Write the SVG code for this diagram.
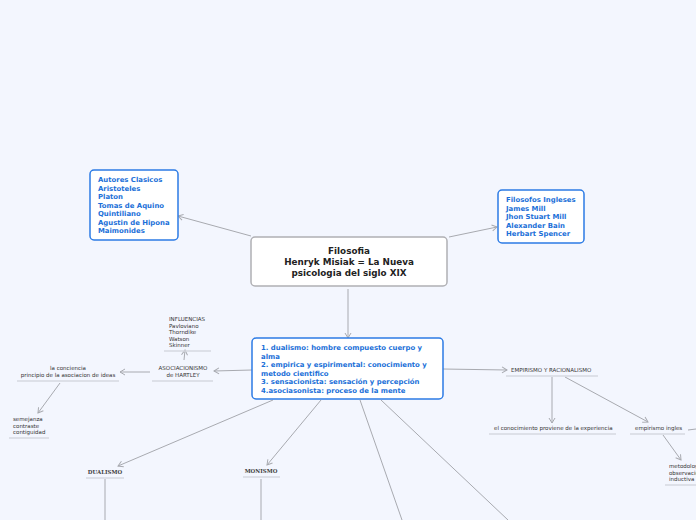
<svg xmlns="http://www.w3.org/2000/svg" width="696" height="520" viewBox="0 0 696 520">
<defs>
<marker id="ah" markerWidth="8" markerHeight="8" refX="6" refY="4" orient="auto" markerUnits="userSpaceOnUse">
<path d="M1,1 L6,4 L1,7" fill="none" stroke="#a8aab0" stroke-width="1"/>
</marker>
</defs>
<style>
.bg{fill:#f3f6fe}
.root{fill:#fff;stroke:#b0b0b4;stroke-width:1.5}
.blue{fill:#fff;stroke:#2c7be5;stroke-width:1.5}
.rt{font-family:"DejaVu Sans",sans-serif;font-weight:bold;font-size:8.8px;fill:#222;text-anchor:middle}
.bt{font-family:"DejaVu Sans",sans-serif;font-weight:bold;font-size:6.9px;fill:#1a6fd8}
.st{font-family:"DejaVu Sans",sans-serif;font-size:5.5px;fill:#333}
.sv{font-family:"DejaVu Serif",serif;font-weight:bold;font-size:5.4px;fill:#444;text-anchor:middle}
.ul{stroke:#d6d9e0;stroke-width:1.5}
.c{stroke:#a8aab0;stroke-width:1;fill:none}
.ca{stroke:#a8aab0;stroke-width:1;fill:none;marker-end:url(#ah)}
</style>
<rect class="bg" width="696" height="520"/>
<g id="connectors">
<line class="ca" x1="251" y1="236" x2="178" y2="216"/>
<line class="ca" x1="449" y1="237" x2="497" y2="227"/>
<line class="ca" x1="348" y1="289" x2="348" y2="338"/>
<line class="ca" x1="252" y1="370" x2="214" y2="371"/>
<line class="ca" x1="184" y1="360" x2="185" y2="350"/>
<line class="ca" x1="150" y1="372" x2="120" y2="372"/>
<line class="ca" x1="60" y1="383" x2="38" y2="413"/>
<line class="ca" x1="443" y1="369" x2="507" y2="370"/>
<line class="ca" x1="552" y1="377" x2="552" y2="423"/>
<line class="ca" x1="565" y1="377" x2="648" y2="422"/>
<line class="c" x1="688" y1="430" x2="696" y2="429"/>
<line class="ca" x1="663" y1="435" x2="681" y2="460"/>
<line class="ca" x1="273" y1="400" x2="118" y2="466"/>
<line class="c" x1="105" y1="479" x2="105" y2="520"/>
<line class="ca" x1="321" y1="400" x2="267" y2="465"/>
<line class="c" x1="261" y1="479" x2="261" y2="520"/>
<line class="c" x1="360" y1="400" x2="402" y2="520"/>
<line class="c" x1="381" y1="400" x2="508" y2="520"/>
</g>
<g id="root">
<rect class="root" x="251" y="237" width="196" height="49" rx="4"/>
<text class="rt" x="349" y="254">Filosofia</text>
<text class="rt" x="349" y="265">Henryk Misiak = La Nueva</text>
<text class="rt" x="349" y="276">psicologia del siglo XIX</text>
</g>
<g id="autores">
<rect class="blue" x="90" y="170" width="88" height="70" rx="4"/>
<text class="bt" x="98" y="182">Autores Clasicos</text>
<text class="bt" x="98" y="190.5">Aristoteles</text>
<text class="bt" x="98" y="199">Platon</text>
<text class="bt" x="98" y="207.5">Tomas de Aquino</text>
<text class="bt" x="98" y="216">Quintiliano</text>
<text class="bt" x="98" y="224.5">Agustin de Hipona</text>
<text class="bt" x="98" y="233">Maimonides</text>
</g>
<g id="ingleses">
<rect class="blue" x="498" y="190" width="86" height="53" rx="4"/>
<text class="bt" x="506" y="202">Filosofos Ingleses</text>
<text class="bt" x="506" y="210.5">James Mill</text>
<text class="bt" x="506" y="219">Jhon Stuart Mill</text>
<text class="bt" x="506" y="227.5">Alexander Bain</text>
<text class="bt" x="506" y="236">Herbart Spencer</text>
</g>
<g id="centro">
<rect class="blue" x="252" y="338" width="191" height="61" rx="4"/>
<text class="bt" x="261" y="350">1. dualismo: hombre compuesto cuerpo y</text>
<text class="bt" x="261" y="358.5">alma</text>
<text class="bt" x="261" y="367">2. empirica y espirimental: conocimiento y</text>
<text class="bt" x="261" y="375.5">metodo cientifico</text>
<text class="bt" x="261" y="384">3. sensacionista: sensación y percepción</text>
<text class="bt" x="261" y="392.5">4.asociasonista: proceso de la mente</text>
</g>
<g id="asociacionismo">
<text class="st" x="183" y="370" text-anchor="middle">ASOCIACIONISMO</text>
<text class="st" x="183" y="377" text-anchor="middle">de HARTLEY</text>
<line class="ul" x1="152" y1="381" x2="213" y2="381"/>
</g>
<g id="influencias">
<text class="st" x="169" y="321">INFLUENCIAS</text>
<text class="st" x="169" y="327.5">Pavloviano</text>
<text class="st" x="169" y="334">Thorndike</text>
<text class="st" x="169" y="340.5">Watson</text>
<text class="st" x="169" y="347">Skinner</text>
<line class="ul" x1="164" y1="351" x2="211" y2="351"/>
</g>
<g id="conciencia">
<text class="st" x="68" y="370" text-anchor="middle">la conciencia</text>
<text class="st" x="68" y="377" text-anchor="middle">principio de la asociacion de ideas</text>
<line class="ul" x1="17" y1="381" x2="119" y2="381"/>
</g>
<g id="semejanza">
<text class="st" x="13" y="421">semejanza</text>
<text class="st" x="13" y="427.5">contraste</text>
<text class="st" x="13" y="434">contiguidad</text>
<line class="ul" x1="9" y1="438" x2="49" y2="438"/>
</g>
<g id="empirismo">
<text class="st" x="511" y="372">EMPIRISMO Y RACIONALISMO</text>
<line class="ul" x1="506" y1="376" x2="598" y2="376"/>
</g>
<g id="experiencia">
<text class="st" x="494" y="430">el conocimiento proviene de la experiencia</text>
<line class="ul" x1="489" y1="434" x2="616" y2="434"/>
</g>
<g id="ingles">
<text class="st" x="635" y="430">empirismo ingles</text>
<line class="ul" x1="630" y1="434" x2="685" y2="434"/>
</g>
<g id="metodologia">
<text class="st" x="669" y="468">metodologia</text>
<text class="st" x="669" y="474.5">observacion</text>
<text class="st" x="669" y="481">inductiva</text>
<line class="ul" x1="665" y1="485" x2="696" y2="485"/>
</g>
<g id="dualismo">
<text class="sv" x="105" y="474">DUALISMO</text>
<line class="ul" x1="86" y1="478" x2="124" y2="478"/>
</g>
<g id="monismo">
<text class="sv" x="261" y="473">MONISMO</text>
<line class="ul" x1="243" y1="477" x2="280" y2="477"/>
</g>
</svg>
